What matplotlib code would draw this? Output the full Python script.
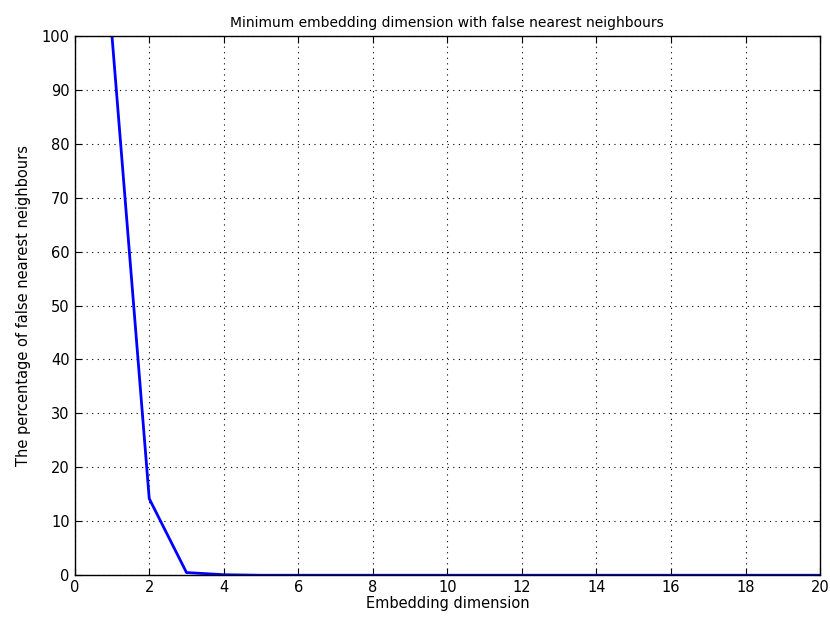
import matplotlib.pyplot as plt

# Embedding dimension vs percentage of false nearest neighbours
dims = list(range(1, 21))
fnn = [100, 14.2, 0.5, 0.1, 0, 0, 0, 0, 0, 0,
       0, 0, 0, 0, 0, 0, 0, 0, 0, 0]

fig = plt.figure(figsize=(8.3, 6.28), dpi=100)
ax = fig.add_axes([0.090, 0.084, 0.898, 0.859])
ax.plot(dims, fnn, color='blue', linewidth=2)

ax.set_xlim(0, 20)
ax.set_ylim(0, 100)
ax.set_xticks(range(0, 21, 2))
ax.set_yticks(range(0, 101, 10))
ax.grid(True, color='black', linestyle=(0, (1, 4)), linewidth=0.8)
ax.tick_params(direction='in', length=5, labelsize=10.5, top=True, right=True)
for s in ax.spines.values():
    s.set_linewidth(1)

ax.set_title('Minimum embedding dimension with false nearest neighbours', fontsize=10)
ax.set_xlabel('Embedding dimension', fontsize=10.5, labelpad=1)
ax.set_ylabel('The percentage of false nearest neighbours', fontsize=10.5, labelpad=8)

fig.savefig('out.png')
